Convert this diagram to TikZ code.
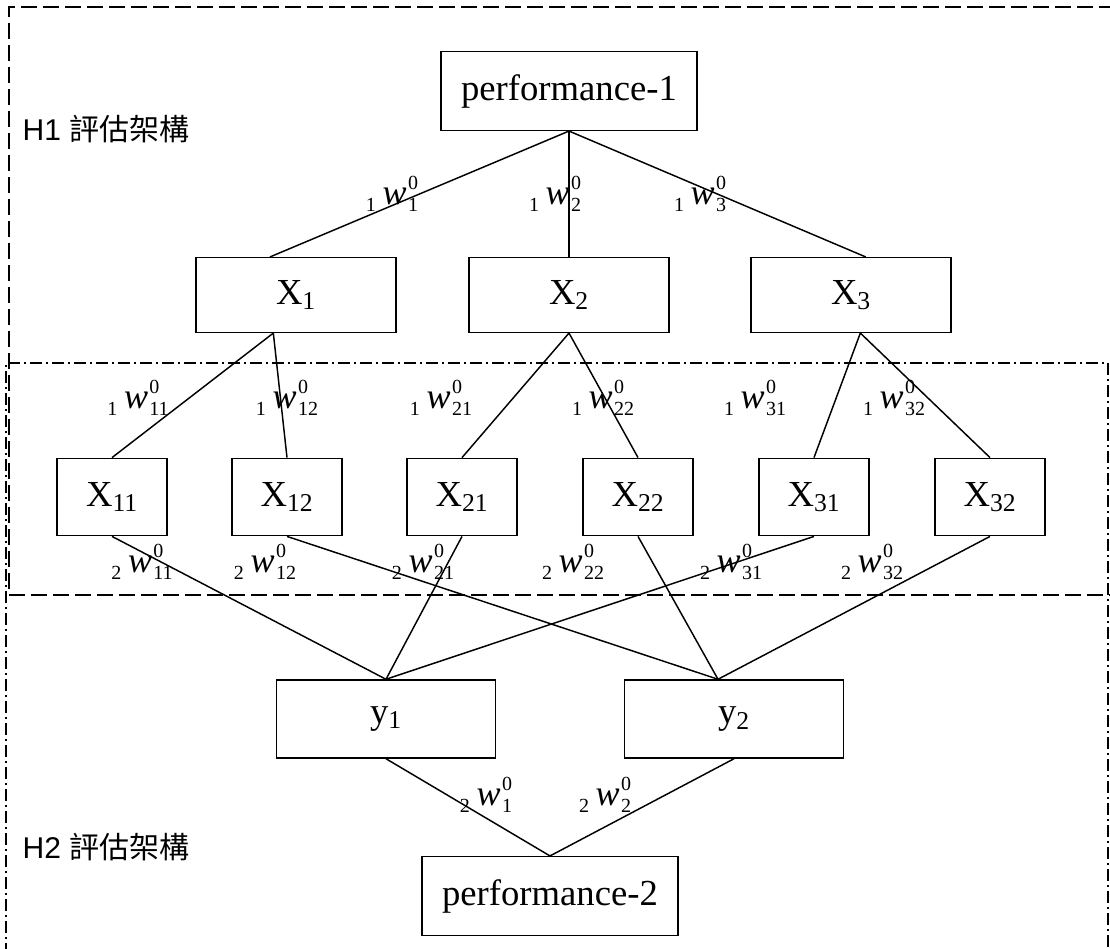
\documentclass[tikz,border=0pt]{standalone}
\usepackage{fontspec}
\setmainfont{Liberation Serif}
\newfontfamily\hsans{Liberation Sans}
\newfontfamily\cjk{Noto Sans CJK TC}
\usetikzlibrary{calc}

\newcommand{\smallnum}[1]{{\fontsize{15}{15}\selectfont #1}}
\newcommand{\wlab}[2]{\raisebox{-5.5pt}{\smallnum{#1}}\hspace{5pt}\textit{w}\hspace{1pt}%
  \rlap{\raisebox{11.5pt}{\smallnum{0}}}\raisebox{-5.5pt}{\smallnum{#2}}}

\tikzset{
  box/.style={draw,line width=1.1pt,inner sep=0pt,font=\fontsize{27.5}{30}\selectfont},
  perfbox/.style={box,minimum width=192pt,minimum height=59pt},
  xbox/.style={box,minimum width=150pt,minimum height=56pt},
  subbox/.style={box,minimum width=82.5pt,minimum height=58pt},
  ybox/.style={box,minimum width=164pt,minimum height=58.5pt},
  link/.style={line width=1.1pt},
  wtag/.style={inner sep=0pt,font=\fontsize{27}{27}\selectfont},
  htag/.style={inner sep=0pt,font=\fontsize{22.5}{24}\selectfont},
  hone/.style={line width=1.1pt,dash pattern=on 12pt off 4.5pt},
  htwo/.style={line width=1.1pt,dash pattern=on 9pt off 3pt on 1.5pt off 3pt}
}

\begin{document}
\begin{tikzpicture}[x=0.75pt,y=-0.75pt]
            \useasboundingbox (0,0) rectangle (1110,949);

            % frames of the two structures
            \draw[hone] (1115,7) -| (9,595) -- (1115,595);
            \draw[htwo] (6,955) |- (1108,363) -- (1108,955);

            \node[htag] (h1) at (106,129) {{\hsans H1 }{\cjk 評估架構}};
            \node[htag] (h2) at (106,847) {{\hsans H2 }{\cjk 評估架構}};

            % boxes
            \node[perfbox] (perf1) at (569,91) {performance-1};
            \node[xbox] (X1) at (296,295) {X\textsubscript{1}};
            \node[xbox] (X2) at (569,295) {X\textsubscript{2}};
            \node[xbox] (X3) at (851,295) {X\textsubscript{3}};
            \foreach \n/\x in {11/112,12/287,21/462,22/638,31/814,32/990}
              \node[subbox] (X\n) at (\x,497) {X\textsubscript{\n}};
            \node[ybox] (y1) at (386,719) {y\textsubscript{1}};
            \node[ybox] (y2) at (734,719) {y\textsubscript{2}};
            \node[perfbox] (perf2) at (550,896) {performance-2};

            % links
            \draw[link] (perf1.south) -- ([xshift=-19.5pt]X1.north);
            \draw[link] (perf1.south) -- (X2.north);
            \draw[link] (perf1.south) -- ([xshift=11pt]X3.north);
            \draw[link] (X11.north) -- ([xshift=-17pt]X1.south) -- (X12.north);
            \draw[link] (X21.north) -- (X2.south) -- (X22.north);
            \draw[link] (X31.north) -- ([xshift=7pt]X3.south) -- (X32.north);
            \foreach \n in {11,21,31}
              \draw[link] (X\n.south) -- (y1.north);
            \foreach \n in {12,22,32}
              \draw[link] (X\n.south) -- ([xshift=-12pt]y2.north);
            \draw[link] (y1.south) -- (perf2.north) -- (y2.south);

            % weights
            \node[wtag] (w1) at (392,194) {\wlab{1}{1}};
            \node[wtag] (w2) at (555,194) {\wlab{1}{2}};
            \node[wtag] (w3) at (700,194) {\wlab{1}{3}};
            \foreach \n/\x in {11/138,12/287,21/441,22/603,31/755,32/894}
              \node[wtag] (wa\n) at (\x,398) {\wlab{1}{\n}};
            \foreach \n/\x in {11/142,12/265,21/423,22/573,31/731,32/872}
              \node[wtag] (wb\n) at (\x,562) {\wlab{2}{\n}};
            \node[wtag] (v1) at (486,795) {\wlab{2}{1}};
            \node[wtag] (v2) at (605,795) {\wlab{2}{2}};

        \end{tikzpicture}
\end{document}
